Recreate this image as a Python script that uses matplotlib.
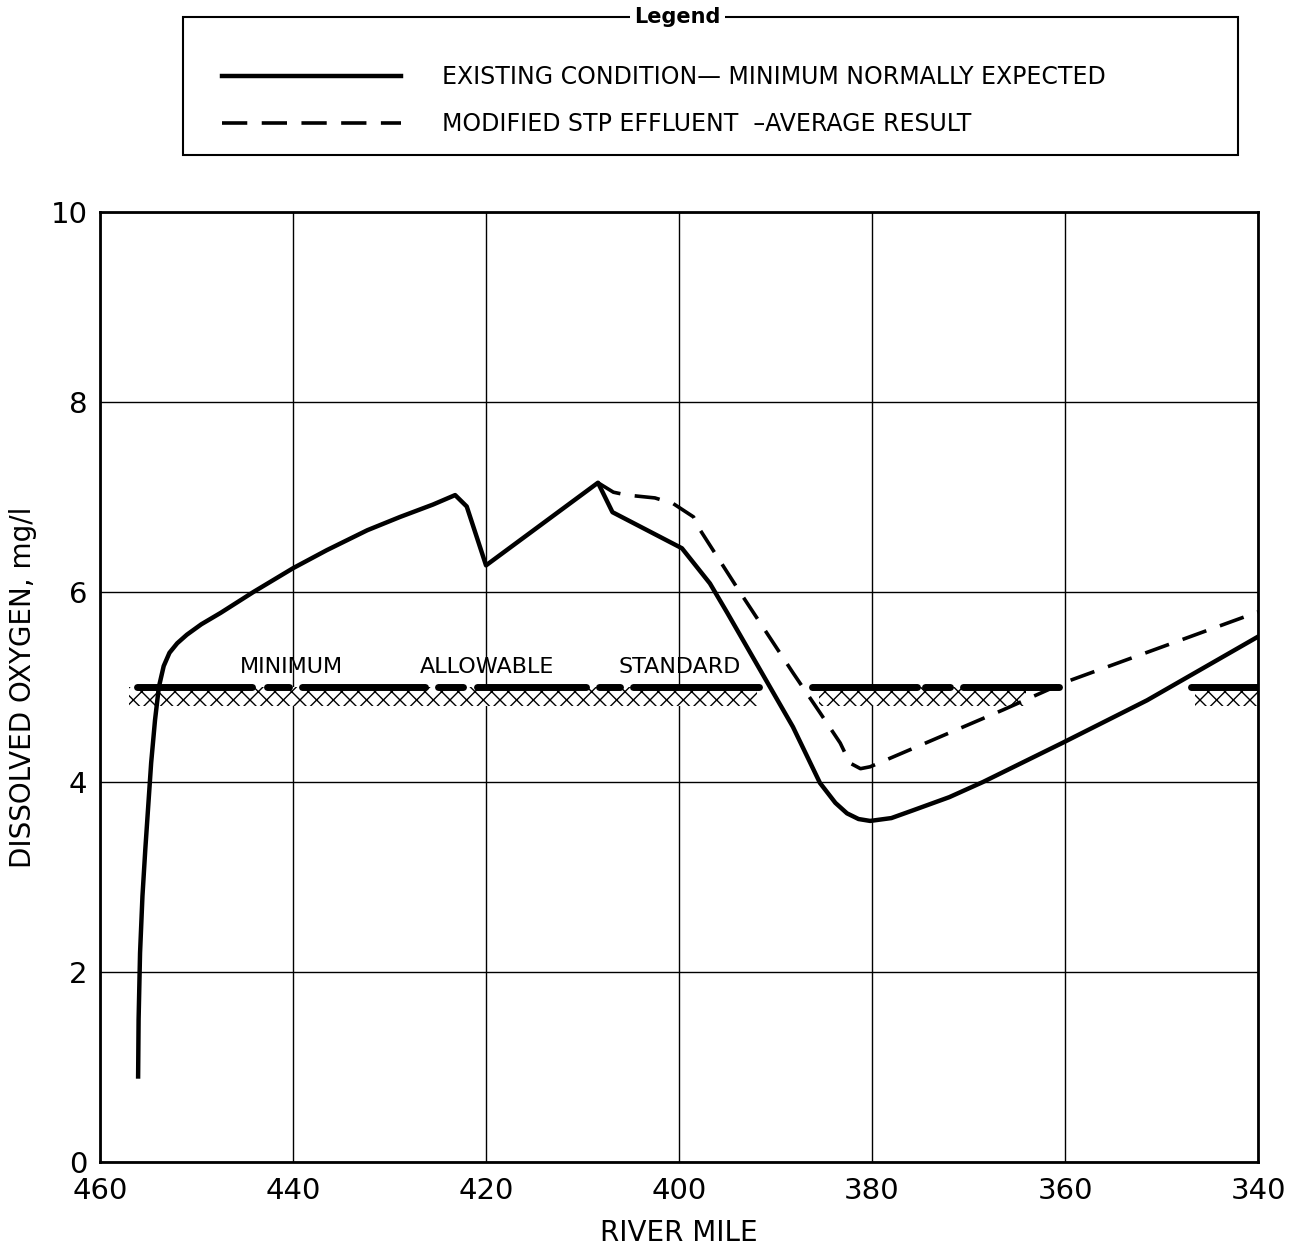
import matplotlib
matplotlib.use("Agg")
import matplotlib.pyplot as plt
from matplotlib.lines import Line2D
from matplotlib.patches import Rectangle

plt.rcParams['font.family'] = ['DejaVu Sans']
plt.rcParams['hatch.linewidth'] = 1.0

# Existing condition - minimum normally expected (solid)
existing_mile = [456.05, 456.0, 455.85, 455.6, 455.3, 455.0, 454.7, 454.3, 453.9, 453.4,
                 452.8, 452.0, 451.0, 449.5, 447.5, 445.8, 444.1, 440.0, 436.5, 432.3,
                 428.9, 425.5, 423.2, 422.0, 420.0, 408.4, 406.9, 399.7, 396.8, 395.0,
                 391.6, 388.2, 385.4, 383.8, 382.6, 381.4, 380.2, 378.0, 375.8, 372.0,
                 368.5, 360.3, 351.5, 340.0]
existing_do = [0.9, 1.5, 2.2, 2.8, 3.3, 3.75, 4.2, 4.65, 5.0, 5.22,
               5.36, 5.46, 5.55, 5.66, 5.78, 5.89, 6.0, 6.25, 6.44, 6.65,
               6.79, 6.92, 7.02, 6.9, 6.28, 7.15, 6.84, 6.46, 6.09, 5.78,
               5.18, 4.58, 3.99, 3.78, 3.67, 3.61, 3.59, 3.62, 3.70, 3.84,
               4.0, 4.41, 4.86, 5.53]

# Modified STP effluent - average result (dashed)
modified_mile = [408.4, 406.8, 405.4, 402.5, 400.6, 398.5, 397.8, 393.7, 388.2, 385.4,
                 383.3, 382.3, 381.2, 380.2, 366.4, 360.0, 340.0]
modified_do = [7.15, 7.05, 7.02, 6.99, 6.93, 6.79, 6.65, 6.0, 5.15, 4.73,
               4.41, 4.2, 4.14, 4.16, 4.76, 5.05, 5.79]

# Minimum allowable standard (5 mg/l) - drawn segments (start, end miles)
standard_value = 5.0
standard_segments = [(456.2, 444.25), (442.7, 440.4), (439.1, 426.3), (425.0, 422.4),
                     (420.9, 409.6), (408.3, 406.1), (404.8, 391.7), (386.2, 375.3),
                     (374.5, 371.9), (370.6, 360.6), (347.0, 340.0)]
hatch_spans = [(457.0, 391.9), (385.5, 364.0), (346.5, 340.0)]
standard_words = ["MINIMUM", "ALLOWABLE", "STANDARD"]
standard_word_miles = [440.2, 419.9, 399.9]

x_ticks = [460, 440, 420, 400, 380, 360, 340]
y_ticks = [0, 2, 4, 6, 8, 10]

fig = plt.figure(figsize=(12.97, 12.52), dpi=100)
ax = fig.add_axes([0.0771, 0.0719, 0.8929, 0.7588])

ax.set_xlim(460, 340)
ax.set_ylim(0, 10)
ax.set_xticks(x_ticks)
ax.set_yticks(y_ticks)
ax.set_xticklabels([str(v) for v in x_ticks], fontsize=21)
ax.set_yticklabels([str(v) for v in y_ticks], fontsize=21)
ax.tick_params(axis='x', length=0, pad=11)
ax.tick_params(axis='y', length=0, pad=9)
ax.grid(True, color='black', linewidth=1.0)
ax.set_axisbelow(True)
for s in ax.spines.values():
    s.set_linewidth(2.0)

# hatching under the standard line
for a, b in hatch_spans:
    ax.fill_between([a, b], [standard_value - 0.2] * 2, [standard_value] * 2,
                    facecolor='white', edgecolor='black', hatch='\\\\//', linewidth=0, zorder=2)
for a, b in standard_segments:
    ax.plot([a, b], [standard_value, standard_value], color='black', linewidth=5,
            solid_capstyle='round', zorder=3)
for w, m in zip(standard_words, standard_word_miles):
    ax.text(m, standard_value + 0.1, w, ha='center', va='bottom', fontsize=16,
            fontweight='medium', zorder=4)

ax.plot(existing_mile, existing_do, color='black', linewidth=3.2, zorder=5,
        solid_joinstyle='round')
ax.plot(modified_mile, modified_do, color='black', linewidth=2.6, zorder=5,
        dashes=(7, 4))

ax.set_xlabel("RIVER MILE", fontsize=20, labelpad=10)
ax.set_ylabel("DISSOLVED OXYGEN, mg/l", fontsize=20, labelpad=10)

# legend box
fig.patches.append(Rectangle((0.1411, 0.8762), 0.8134, 0.1102, transform=fig.transFigure,
                             facecolor='white', edgecolor='black', linewidth=1.5, zorder=1))
handles = [Line2D([0], [0], color='black', linewidth=3.2),
           Line2D([0], [0], color='black', linewidth=2.6, dashes=(7, 4))]
labels = ["EXISTING CONDITION\u2014 MINIMUM NORMALLY EXPECTED",
          "MODIFIED STP EFFLUENT  \u2013AVERAGE RESULT"]
leg = fig.legend(handles, labels, loc='upper left',
                 bbox_to_anchor=(222 / 1297, 1 - 65 / 1252),
                 bbox_transform=fig.transFigure, borderaxespad=0, borderpad=0,
                 fontsize=17, handlelength=7.6, handletextpad=1.7, labelspacing=0.98,
                 frameon=False)
leg.set_zorder(3)
t = fig.text(0.5225, 0.9864, "Legend", ha='center', va='center', fontsize=15,
             fontweight='bold', bbox=dict(facecolor='white', edgecolor='none', pad=3))
t.set_zorder(10)

fig.savefig("out.png", dpi=100)
